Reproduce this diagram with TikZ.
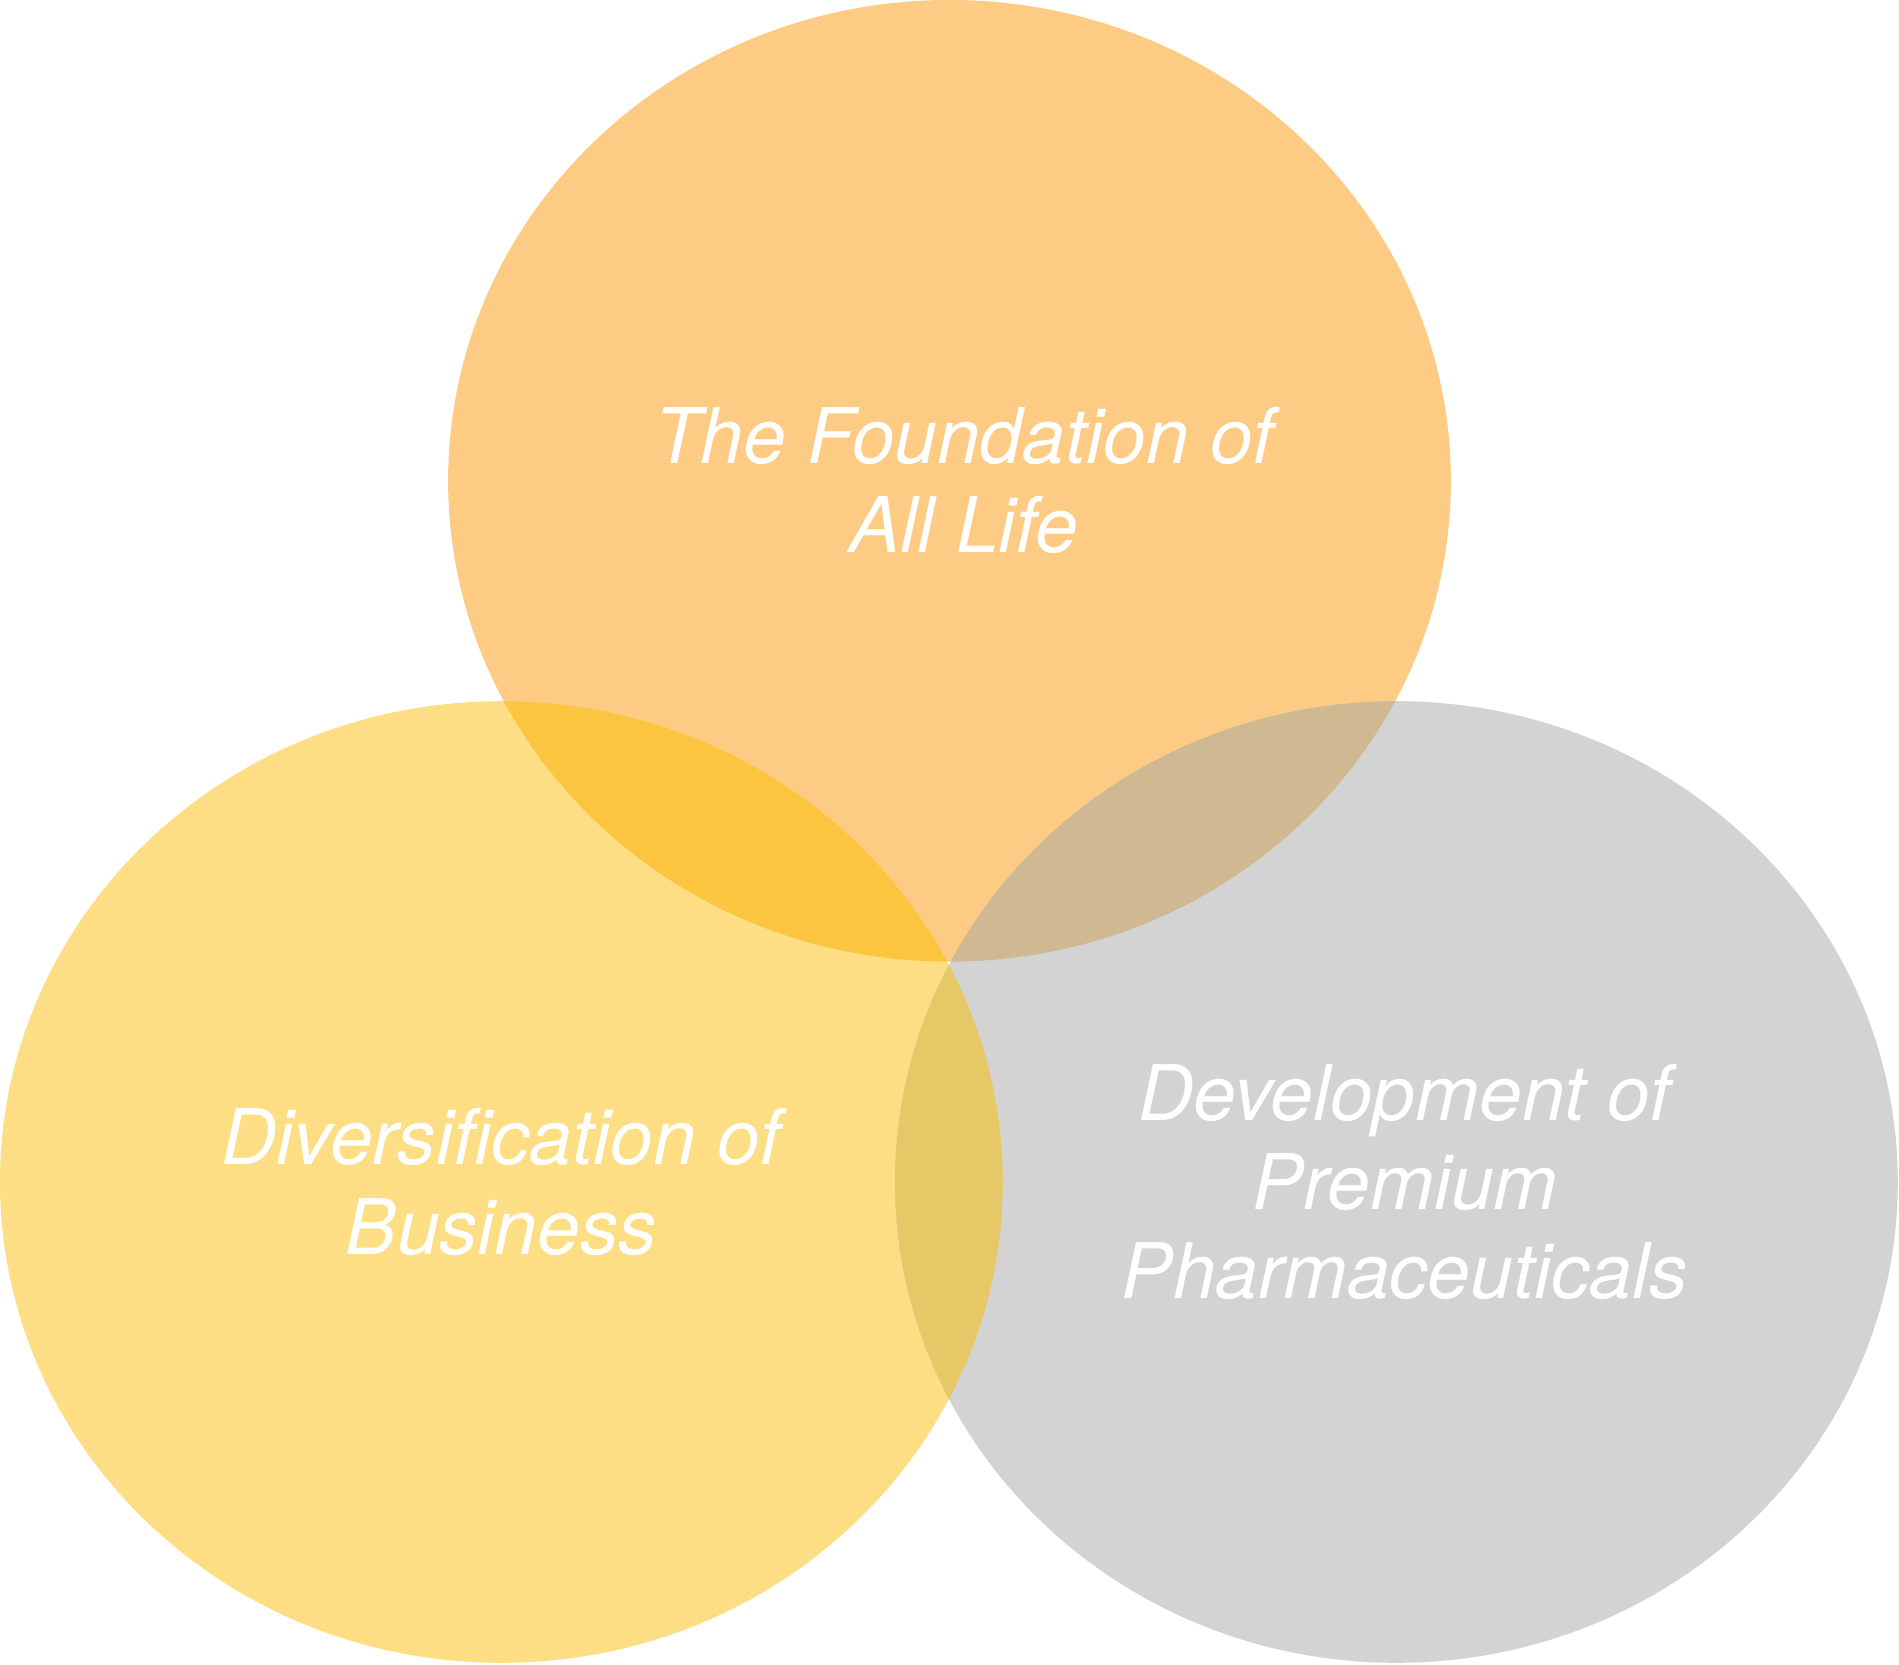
\documentclass[tikz,border=0pt]{standalone}
\usepackage{fontspec}
\setmainfont{TeX Gyre Heros}
\definecolor{topc}{HTML}{FDCB84}
\definecolor{leftc}{HTML}{FDDE84}
\definecolor{rightc}{HTML}{D3D3D3}
\definecolor{tlc}{HTML}{FCC540}
\definecolor{trc}{HTML}{D0B893}
\definecolor{lrc}{HTML}{E6C866}
\begin{document}
\begin{tikzpicture}[x=0.01cm, y=-0.01cm,
  label/.style={text=white, font=\itshape\fontsize{18}{21}\selectfont, align=center}]
\def\topell{(784,397) ellipse [x radius=414, y radius=397]}
\def\leftell{(414,976) ellipse [x radius=414, y radius=397]}
\def\rightell{(1153,976) ellipse [x radius=414, y radius=397]}
\useasboundingbox (0,0) rectangle (1568,1374);
\fill [topc] \topell;
\fill [leftc] \leftell;
\fill [rightc] \rightell;
\begin{scope}
  \clip \topell;
  \fill [tlc] \leftell;
  \fill [trc] \rightell;
\end{scope}
\begin{scope}
  \clip \leftell;
  \fill [lrc] \rightell;
\end{scope}

\node [label] (foundation) at (796,397) {The Foundation of\\All Life};
\node [label] (diversification) at (414,976) {Diversification of\\Business};
\node [label] (development) at (1160,976) {Development of\\Premium\\Pharmaceuticals};
\end{tikzpicture}
\end{document}
